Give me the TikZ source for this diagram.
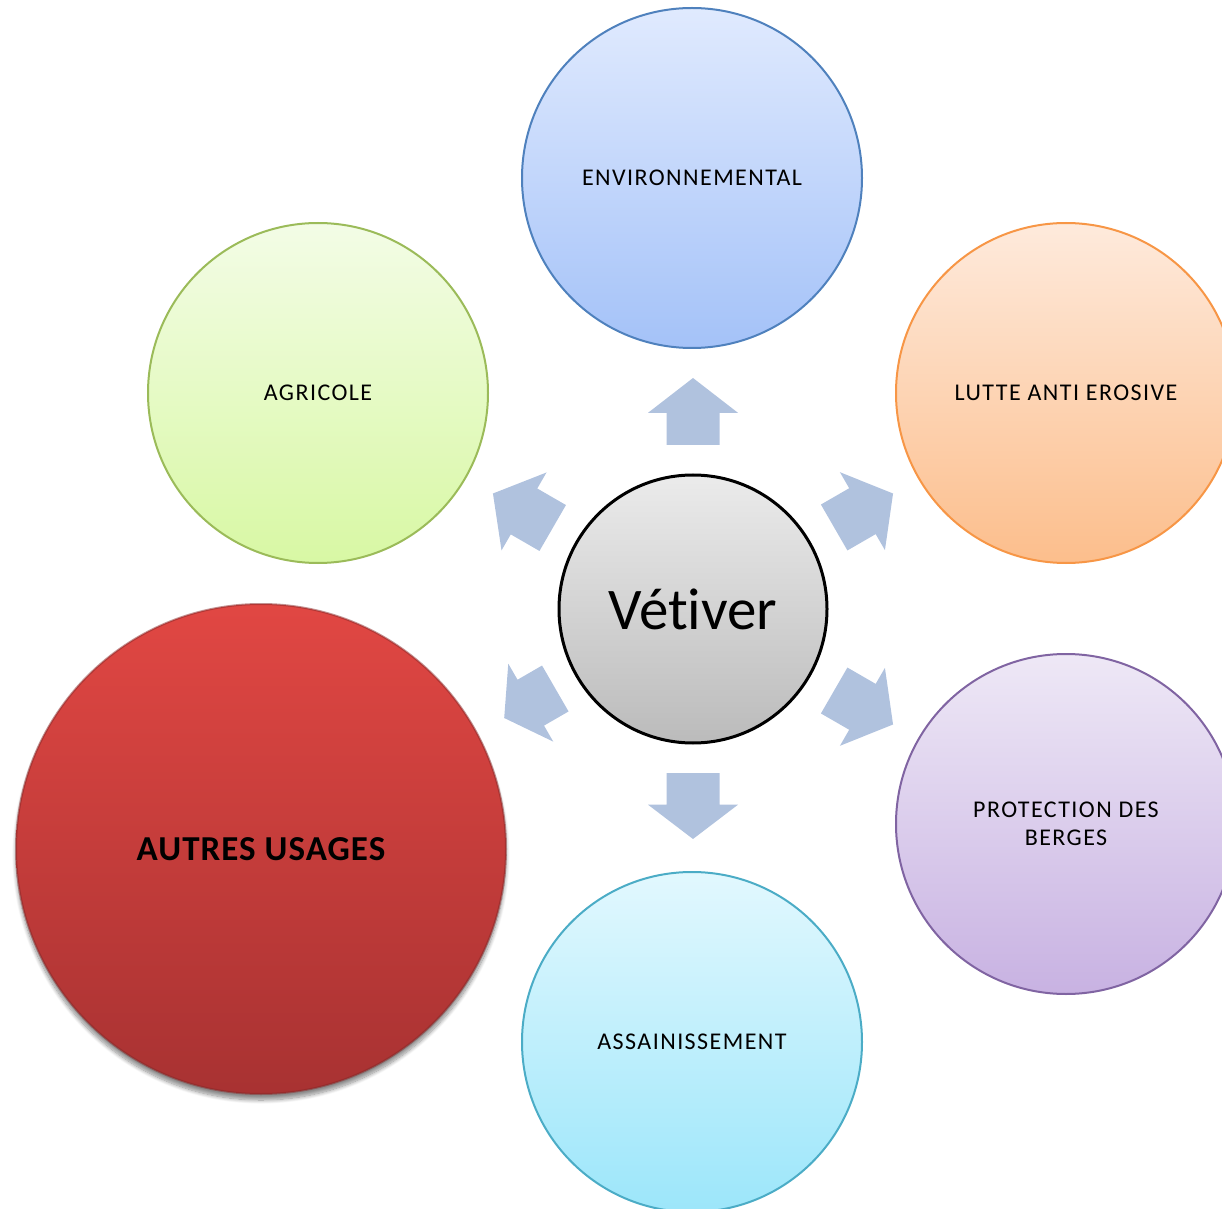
\documentclass[tikz,border=0pt]{standalone}
\usepackage{fontspec}
\setmainfont{Carlito}[Ligatures={NoCommon}]
\newfontfamily\espace{Carlito}[Ligatures={NoCommon}, LetterSpace=6]
\newfontfamily\espacegras{Carlito}[Ligatures={NoCommon}, LetterSpace=3, BoldFont={Carlito Bold}]
\usepackage{tikz}
\usetikzlibrary{shapes,shadows,shadows.blur,arrows}
\definecolor{flecheBleu}{RGB}{176,194,222}
\definecolor{envHaut}{HTML}{E0EAFE}
\definecolor{envBas}{HTML}{A4C2F8}
\definecolor{envBord}{HTML}{4F81BD}
\definecolor{agriHaut}{HTML}{F3FCE6}
\definecolor{agriBas}{HTML}{D8F8A4}
\definecolor{agriBord}{HTML}{9BBB59}
\definecolor{lutteHaut}{HTML}{FEEADC}
\definecolor{lutteBas}{HTML}{FCBE8C}
\definecolor{lutteBord}{HTML}{F79646}
\definecolor{protHaut}{HTML}{EEE8F6}
\definecolor{protBas}{HTML}{C8B2E2}
\definecolor{protBord}{HTML}{8064A2}
\definecolor{assHaut}{HTML}{E2F8FE}
\definecolor{assBas}{HTML}{9CE6FA}
\definecolor{assBord}{HTML}{4BACC6}
\definecolor{vetHaut}{HTML}{EBEBEB}
\definecolor{vetBas}{HTML}{BBBBBB}
\definecolor{autresHaut}{HTML}{E14743}
\definecolor{autresBas}{HTML}{A83232}
\tikzstyle{rond} = [circle, line width=1pt, inner sep=0pt, outer sep=0pt, minimum size=170pt, align=center, font=\espace\fontsize{12}{14}\selectfont]
\tikzstyle{centre} = [circle, draw=black, line width=1.5pt, inner sep=0pt, minimum size=134pt, top color=vetHaut, bottom color=vetBas, font=\fontsize{29.5}{34}\selectfont]
\tikzstyle{grand} = [circle, inner sep=0pt, minimum size=245pt, top color=autresHaut, bottom color=autresBas, draw=autresBas!80!black, draw opacity=0.5, line width=1pt, blur shadow={shadow xshift=0pt, shadow yshift=-3pt, shadow blur steps=10, shadow opacity=45}, font=\espacegras\bfseries\fontsize{17.5}{20}\selectfont]
\tikzstyle{fleche} = [fill=flecheBleu, draw=none]

\begin{document}
\begin{tikzpicture}[x=0.5pt, y=-0.5pt]
    \useasboundingbox (0,0) rectangle (1222,1209);
    \node[grand](Autres) at (261,849){\raisebox{-1.5pt}{AUTRES USAGES}};
    \node[rond, top color=envHaut, bottom color=envBas, draw=envBord](Env) at (692,178){ENVIRONNEMENTAL};
    \node[rond, top color=agriHaut, bottom color=agriBas, draw=agriBord](Agri) at (318,393){AGRICOLE};
    \node[rond, top color=lutteHaut, bottom color=lutteBas, draw=lutteBord](Lutte) at (1066,393){LUTTE ANTI EROSIVE};
    \node[rond, top color=protHaut, bottom color=protBas, draw=protBord](Berges) at (1066,824){PROTECTION DES\\BERGES};
    \node[rond, top color=assHaut, bottom color=assBas, draw=assBord](Assain) at (692,1042){ASSAINISSEMENT};
    \node[centre](Vetiver) at (693,609){Vétiver};
    % fleches autour du centre
    \foreach \ang/\debut/\pointe in {90/164/231, 30/163/231, -30/163/231, -90/164/230, 210/159/218, 150/162/231}{
        \pgfmathsetmacro\tete{\pointe-0.52*(\pointe-\debut)}
        \path[fleche, shift={(Vetiver.center)}, rotate=\ang] (\debut,-26.5) -- (\tete,-26.5) -- (\tete,-45) -- (\pointe,0) -- (\tete,45) -- (\tete,26.5) -- (\debut,26.5) -- cycle;
    }
\end{tikzpicture}
\end{document}
